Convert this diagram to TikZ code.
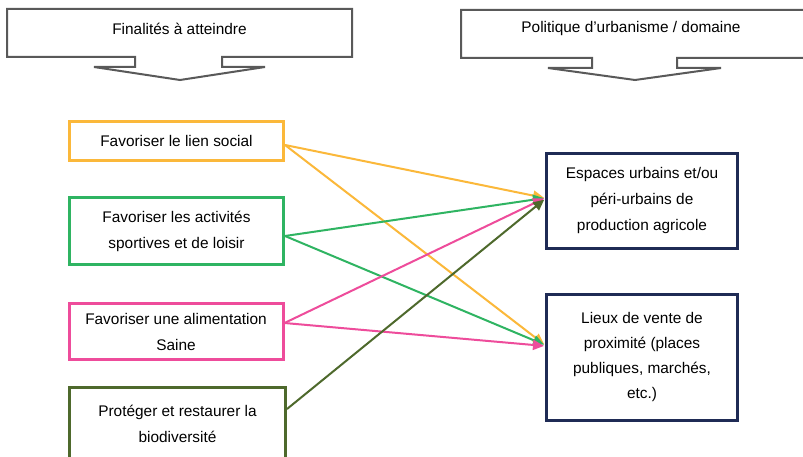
\documentclass[tikz,border=0pt]{standalone}
\usepackage{fontspec}
\setmainfont{Liberation Sans}
\usetikzlibrary{arrows.meta}

\definecolor{goalyellow}{HTML}{FBB83A}
\definecolor{goalgreen}{HTML}{2FB462}
\definecolor{goalpink}{HTML}{EE4C9B}
\definecolor{goalolive}{HTML}{4E692C}
\definecolor{domnavy}{HTML}{1F2B55}
\definecolor{headgrey}{HTML}{595959}

\tikzset{
  txt/.style={font=\fontsize{15.4}{26}\selectfont, align=center, text=black},
  goalbox/.style={txt, draw=#1, line width=3pt, inner sep=0pt, fill=white},
  dombox/.style={txt, draw=domnavy, line width=3pt, inner sep=0pt, fill=white,
                 minimum width=191pt},
  header/.style={draw=headgrey, line width=2pt, fill=white, line join=miter},
  link/.style={draw=#1, line width=2pt,
               -{Triangle[length=11pt,width=10pt]}, shorten >=1pt}
}

\begin{document}
\begin{tikzpicture}[x=1pt,y=-1pt]
  \clip (0,0) rectangle (803,457);
  \useasboundingbox (0,0) rectangle (803,457);
  \fill[white] (0,0) rectangle (803,457);

  % column headers drawn as down-pointing callouts
  \draw[header] (7,9) -- (352,9) -- (352,57) -- (222,57) -- (222,67) -- (265,67)
    -- (180,80) -- (94,67) -- (135,67) -- (135,57) -- (7,57) -- cycle;
  \node[txt] (hleft) at (179.5,29) {Finalités à atteindre};

  \draw[header] (461,10) -- (810,10) -- (810,58) -- (677,58) -- (677,68) -- (721,68)
    -- (635,80) -- (548,68) -- (592,68) -- (592,58) -- (461,58) -- cycle;
  \node[txt] (hright) at (631,29) {Politique d’urbanisme / domaine};

  % goals
  \node[goalbox=goalyellow, minimum width=214pt, minimum height=39pt]
    (lien) at (176.5,141) {Favoriser le lien social};
  \node[goalbox=goalgreen, minimum width=214pt, minimum height=67pt]
    (sport) at (176.5,231) {Favoriser les activités\\sportives et de loisir};
  \node[goalbox=goalpink, minimum width=214pt, minimum height=56pt]
    (alim) at (176,331.5) {Favoriser une alimentation\\Saine};
  \node[goalbox=goalolive, minimum width=216pt, minimum height=74pt]
    (bio) at (177.5,424) {Protéger et restaurer la\\biodiversité};

  % urban-planning domains
  \node[dombox, minimum height=95pt] (agri) at (642,201)
    {Espaces urbains et/ou\\péri-urbains de\\production agricole};
  \node[dombox, minimum height=126pt, font=\fontsize{15.4}{25}\selectfont] (vente) at (642,357.5)
    {Lieux de vente de\\proximité (places\\publiques, marchés,\\etc.)};

  % links between goals and domains
  \path[link=goalyellow] ([yshift=-4pt]lien.east) -- ([yshift=3pt]agri.west);
  \path[link=goalyellow] ([yshift=-4pt]lien.east) -- ([yshift=12.5pt]vente.west);
  \path[link=goalgreen] ([yshift=-5pt]sport.east) -- ([yshift=3pt]agri.west);
  \path[link=goalgreen] ([yshift=-5pt]sport.east) -- ([yshift=12.5pt]vente.west);
  \path[link=goalpink] ([yshift=8.5pt]alim.east) -- ([yshift=3pt]agri.west);
  \path[link=goalpink] ([yshift=8.5pt]alim.east) -- ([yshift=11.5pt]vente.west);
  \path[link=goalolive] ([yshift=15pt]bio.east) -- ([yshift=2pt]agri.west);
\end{tikzpicture}
\end{document}
